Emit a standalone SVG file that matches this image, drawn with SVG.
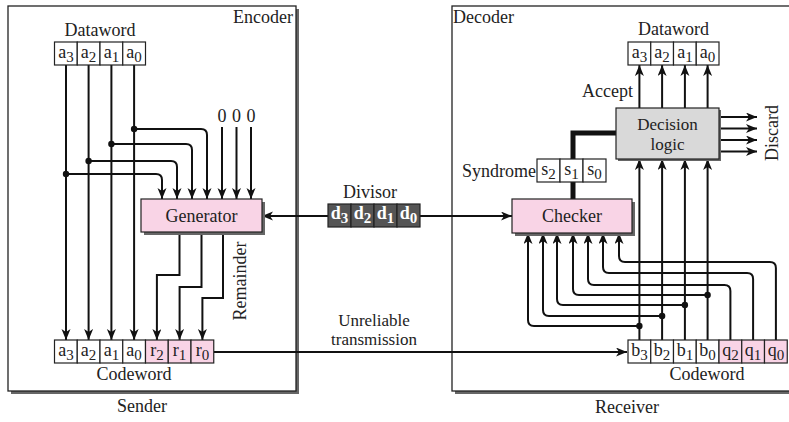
<svg xmlns="http://www.w3.org/2000/svg" width="789" height="422" viewBox="0 0 789 422">
<defs>
<marker id="ah" markerUnits="userSpaceOnUse" markerWidth="12" markerHeight="10" refX="11" refY="4.5" orient="auto">
<path d="M0,0 L11,4.5 L0,9 L3,4.5 z" fill="#111"/>
</marker>
</defs>
<style>
text{font-family:"Liberation Serif","Times New Roman",serif;fill:#222;font-size:18px}
.mid{text-anchor:middle}
.end{text-anchor:end}
.cell{fill:#fff;stroke:#222;stroke-width:1.2}
.pcell{fill:#f9d4e6;stroke:#222;stroke-width:1.2}
.dcell{fill:#555;stroke:#222;stroke-width:1.2}
.ct{font-size:18px;text-anchor:middle}
.sub{font-size:15px}
.dt{font-size:18px;font-weight:bold;fill:#fff;text-anchor:middle}
.frame{fill:#fff;stroke:#222;stroke-width:1.3}
.shadow{fill:#666}
.w{fill:none;stroke:#111;stroke-width:2}
.wa{fill:none;stroke:#111;stroke-width:2;marker-end:url(#ah)}
.thick{fill:none;stroke:#111;stroke-width:5}
.dot{fill:#111}
.two{font-size:17px}
</style>
<rect width="789" height="422" fill="#fff"/>

<g id="sender">
<rect class="shadow" x="11" y="9" width="288" height="385"/>
<rect class="frame" x="8" y="6" width="288" height="385"/>
<text class="end" x="293" y="23">Encoder</text>
<text class="mid" x="142" y="412">Sender</text>
</g>

<g id="receiver">
<rect class="shadow" x="455" y="9" width="345" height="385"/>
<rect class="frame" x="452" y="6" width="345" height="385"/>
<text x="453" y="23">Decoder</text>
<text class="mid" x="627" y="413">Receiver</text>
</g>

<g id="connectors">
<path class="wa" d="M66,65 V340"/>
<path class="wa" d="M88.6,65 V340"/>
<path class="wa" d="M111.4,65 V340"/>
<path class="wa" d="M134.1,65 V340"/>
<path class="wa" d="M134.1,129 H201 Q207,129 207,135 V199"/>
<path class="wa" d="M111.4,144 H186 Q192,144 192,150 V199"/>
<path class="wa" d="M88.6,161 H171 Q177,161 177,167 V199"/>
<path class="wa" d="M66,174 H156 Q162,174 162,180 V199"/>
<circle class="dot" cx="134.1" cy="129" r="3.2"/>
<circle class="dot" cx="111.4" cy="144" r="3.2"/>
<circle class="dot" cx="88.6" cy="161" r="3.2"/>
<circle class="dot" cx="66" cy="174" r="3.2"/>
<path class="wa" d="M222,127 V199"/>
<path class="wa" d="M236.5,127 V199"/>
<path class="wa" d="M251,127 V199"/>
<path class="wa" d="M179.5,233 V275 H156.9 V340"/>
<path class="wa" d="M201.5,233 V287 H179.6 V340"/>
<path class="wa" d="M223,233 V298 H202.4 V340"/>
<path class="wa" d="M328,216 H262"/>
<path class="wa" d="M420,216 H512"/>
<path class="wa" d="M214,352 H627"/>
<path class="wa" d="M639.4,340 V159"/>
<path class="wa" d="M662.1,340 V159"/>
<path class="wa" d="M684.9,340 V159"/>
<path class="wa" d="M707.6,340 V159"/>
<path class="wa" d="M639.4,108 V65"/>
<path class="wa" d="M662.1,108 V65"/>
<path class="wa" d="M684.9,108 V65"/>
<path class="wa" d="M707.6,108 V65"/>
<path class="wa" d="M719,117 H757"/>
<path class="wa" d="M719,128.5 H757"/>
<path class="wa" d="M719,140 H757"/>
<path class="wa" d="M719,151.5 H757"/>
<path class="wa" d="M639.4,326 H534 Q528,326 528,320 V233"/>
<path class="wa" d="M662.1,316 H549 Q543,316 543,310 V233"/>
<path class="wa" d="M684.9,305 H563 Q557,305 557,299 V233"/>
<path class="wa" d="M707.6,295 H579 Q573,295 573,289 V233"/>
<path class="wa" d="M730.4,340 V291 Q730.4,285 724.4,285 H594 Q588,285 588,279 V233"/>
<path class="wa" d="M753.1,340 V279 Q753.1,273 747.1,273 H609 Q603,273 603,267 V233"/>
<path class="wa" d="M775.9,340 V268 Q775.9,262 769.9,262 H625 Q619,262 619,256 V233"/>
<circle class="dot" cx="639.4" cy="326" r="3.2"/>
<circle class="dot" cx="662.1" cy="316" r="3.2"/>
<circle class="dot" cx="684.9" cy="305" r="3.2"/>
<circle class="dot" cx="707.6" cy="295" r="3.2"/>
<path class="thick" d="M573,199 V182"/>
<path class="thick" d="M573,159 V133 H616"/>
</g>

<g id="enc-dataword">
<text class="mid" x="100" y="36">Dataword</text>
<rect class="cell" x="54.5" y="42" width="22.75" height="23"/>
<rect class="cell" x="77.25" y="42" width="22.75" height="23"/>
<rect class="cell" x="100" y="42" width="22.75" height="23"/>
<rect class="cell" x="122.75" y="42" width="22.75" height="23"/>
<text class="ct" x="66" y="58">a<tspan class="sub" dy="4">3</tspan></text>
<text class="ct" x="88.6" y="58">a<tspan class="sub" dy="4">2</tspan></text>
<text class="ct" x="111.4" y="58">a<tspan class="sub" dy="4">1</tspan></text>
<text class="ct" x="134.1" y="58">a<tspan class="sub" dy="4">0</tspan></text>
</g>

<g id="zeros">
<text class="mid" x="222" y="122">0</text>
<text class="mid" x="236.5" y="122">0</text>
<text class="mid" x="251" y="122">0</text>
</g>

<g id="generator">
<rect class="shadow" x="144" y="202" width="121" height="33"/>
<rect class="pcell" x="141" y="199" width="121" height="33"/>
<text class="mid" x="201.5" y="222">Generator</text>
</g>

<g id="remainder-label">
<text class="mid" transform="translate(246,281) rotate(-90)">Remainder</text>
</g>

<g id="enc-codeword">
<rect class="cell" x="54.5" y="340" width="22.75" height="23"/>
<rect class="cell" x="77.25" y="340" width="22.75" height="23"/>
<rect class="cell" x="100" y="340" width="22.75" height="23"/>
<rect class="cell" x="122.75" y="340" width="22.75" height="23"/>
<rect class="pcell" x="145.5" y="340" width="22.75" height="23"/>
<rect class="pcell" x="168.25" y="340" width="22.75" height="23"/>
<rect class="pcell" x="191" y="340" width="22.75" height="23"/>
<text class="ct" x="66" y="356">a<tspan class="sub" dy="4">3</tspan></text>
<text class="ct" x="88.6" y="356">a<tspan class="sub" dy="4">2</tspan></text>
<text class="ct" x="111.4" y="356">a<tspan class="sub" dy="4">1</tspan></text>
<text class="ct" x="134.1" y="356">a<tspan class="sub" dy="4">0</tspan></text>
<text class="ct" x="156.9" y="356">r<tspan class="sub" dy="4">2</tspan></text>
<text class="ct" x="179.6" y="356">r<tspan class="sub" dy="4">1</tspan></text>
<text class="ct" x="202.4" y="356">r<tspan class="sub" dy="4">0</tspan></text>
<text class="mid" x="134" y="380">Codeword</text>
</g>

<g id="divisor">
<text class="mid" x="370" y="198">Divisor</text>
<rect class="dcell" x="328" y="204" width="23" height="23"/>
<rect class="dcell" x="351" y="204" width="23" height="23"/>
<rect class="dcell" x="374" y="204" width="23" height="23"/>
<rect class="dcell" x="397" y="204" width="23" height="23"/>
<text class="dt" x="339.5" y="219">d<tspan class="sub" dy="4">3</tspan></text>
<text class="dt" x="362.5" y="219">d<tspan class="sub" dy="4">2</tspan></text>
<text class="dt" x="385.5" y="219">d<tspan class="sub" dy="4">1</tspan></text>
<text class="dt" x="408.5" y="219">d<tspan class="sub" dy="4">0</tspan></text>
</g>

<g id="transmission-label">
<text class="mid two" x="374" y="326">Unreliable</text>
<text class="mid two" x="374" y="345">transmission</text>
</g>

<g id="checker">
<rect class="shadow" x="515" y="202" width="120" height="34"/>
<rect class="pcell" x="512" y="199" width="120" height="34"/>
<text class="mid" x="572" y="222">Checker</text>
</g>

<g id="syndrome">
<text class="end" x="536" y="177">Syndrome</text>
<rect class="cell" x="537" y="159" width="23" height="23"/>
<rect class="cell" x="560" y="159" width="23" height="23"/>
<rect class="cell" x="583" y="159" width="23" height="23"/>
<text class="ct" x="548.5" y="175">s<tspan class="sub" dy="4">2</tspan></text>
<text class="ct" x="571.5" y="175">s<tspan class="sub" dy="4">1</tspan></text>
<text class="ct" x="594.5" y="175">s<tspan class="sub" dy="4">0</tspan></text>
</g>

<g id="decision">
<rect class="shadow" x="618" y="110" width="103" height="51"/>
<rect x="616" y="108" width="103" height="51" fill="#d9d9d9" stroke="#222" stroke-width="1.2"/>
<text class="mid two" x="667.5" y="130">Decision</text>
<text class="mid two" x="667.5" y="150">logic</text>
</g>

<g id="discard-label">
<text class="mid" transform="translate(778,133) rotate(-90)">Discard</text>
</g>

<g id="accept-label">
<text class="end" x="633" y="97">Accept</text>
</g>

<g id="dec-dataword">
<text class="mid" x="673.5" y="35">Dataword</text>
<rect class="cell" x="628" y="42" width="22.75" height="23"/>
<rect class="cell" x="650.75" y="42" width="22.75" height="23"/>
<rect class="cell" x="673.5" y="42" width="22.75" height="23"/>
<rect class="cell" x="696.25" y="42" width="22.75" height="23"/>
<text class="ct" x="639.4" y="58">a<tspan class="sub" dy="4">3</tspan></text>
<text class="ct" x="662.1" y="58">a<tspan class="sub" dy="4">2</tspan></text>
<text class="ct" x="684.9" y="58">a<tspan class="sub" dy="4">1</tspan></text>
<text class="ct" x="707.6" y="58">a<tspan class="sub" dy="4">0</tspan></text>
</g>

<g id="dec-codeword">
<rect class="cell" x="628" y="340" width="22.75" height="23"/>
<rect class="cell" x="650.75" y="340" width="22.75" height="23"/>
<rect class="cell" x="673.5" y="340" width="22.75" height="23"/>
<rect class="cell" x="696.25" y="340" width="22.75" height="23"/>
<rect class="pcell" x="719" y="340" width="22.75" height="23"/>
<rect class="pcell" x="741.75" y="340" width="22.75" height="23"/>
<rect class="pcell" x="764.5" y="340" width="22.75" height="23"/>
<text class="ct" x="639.4" y="356">b<tspan class="sub" dy="4">3</tspan></text>
<text class="ct" x="662.1" y="356">b<tspan class="sub" dy="4">2</tspan></text>
<text class="ct" x="684.9" y="356">b<tspan class="sub" dy="4">1</tspan></text>
<text class="ct" x="707.6" y="356">b<tspan class="sub" dy="4">0</tspan></text>
<text class="ct" x="730.4" y="356">q<tspan class="sub" dy="4">2</tspan></text>
<text class="ct" x="753.1" y="356">q<tspan class="sub" dy="4">1</tspan></text>
<text class="ct" x="775.9" y="356">q<tspan class="sub" dy="4">0</tspan></text>
<text class="mid" x="707" y="380">Codeword</text>
</g>
</svg>
